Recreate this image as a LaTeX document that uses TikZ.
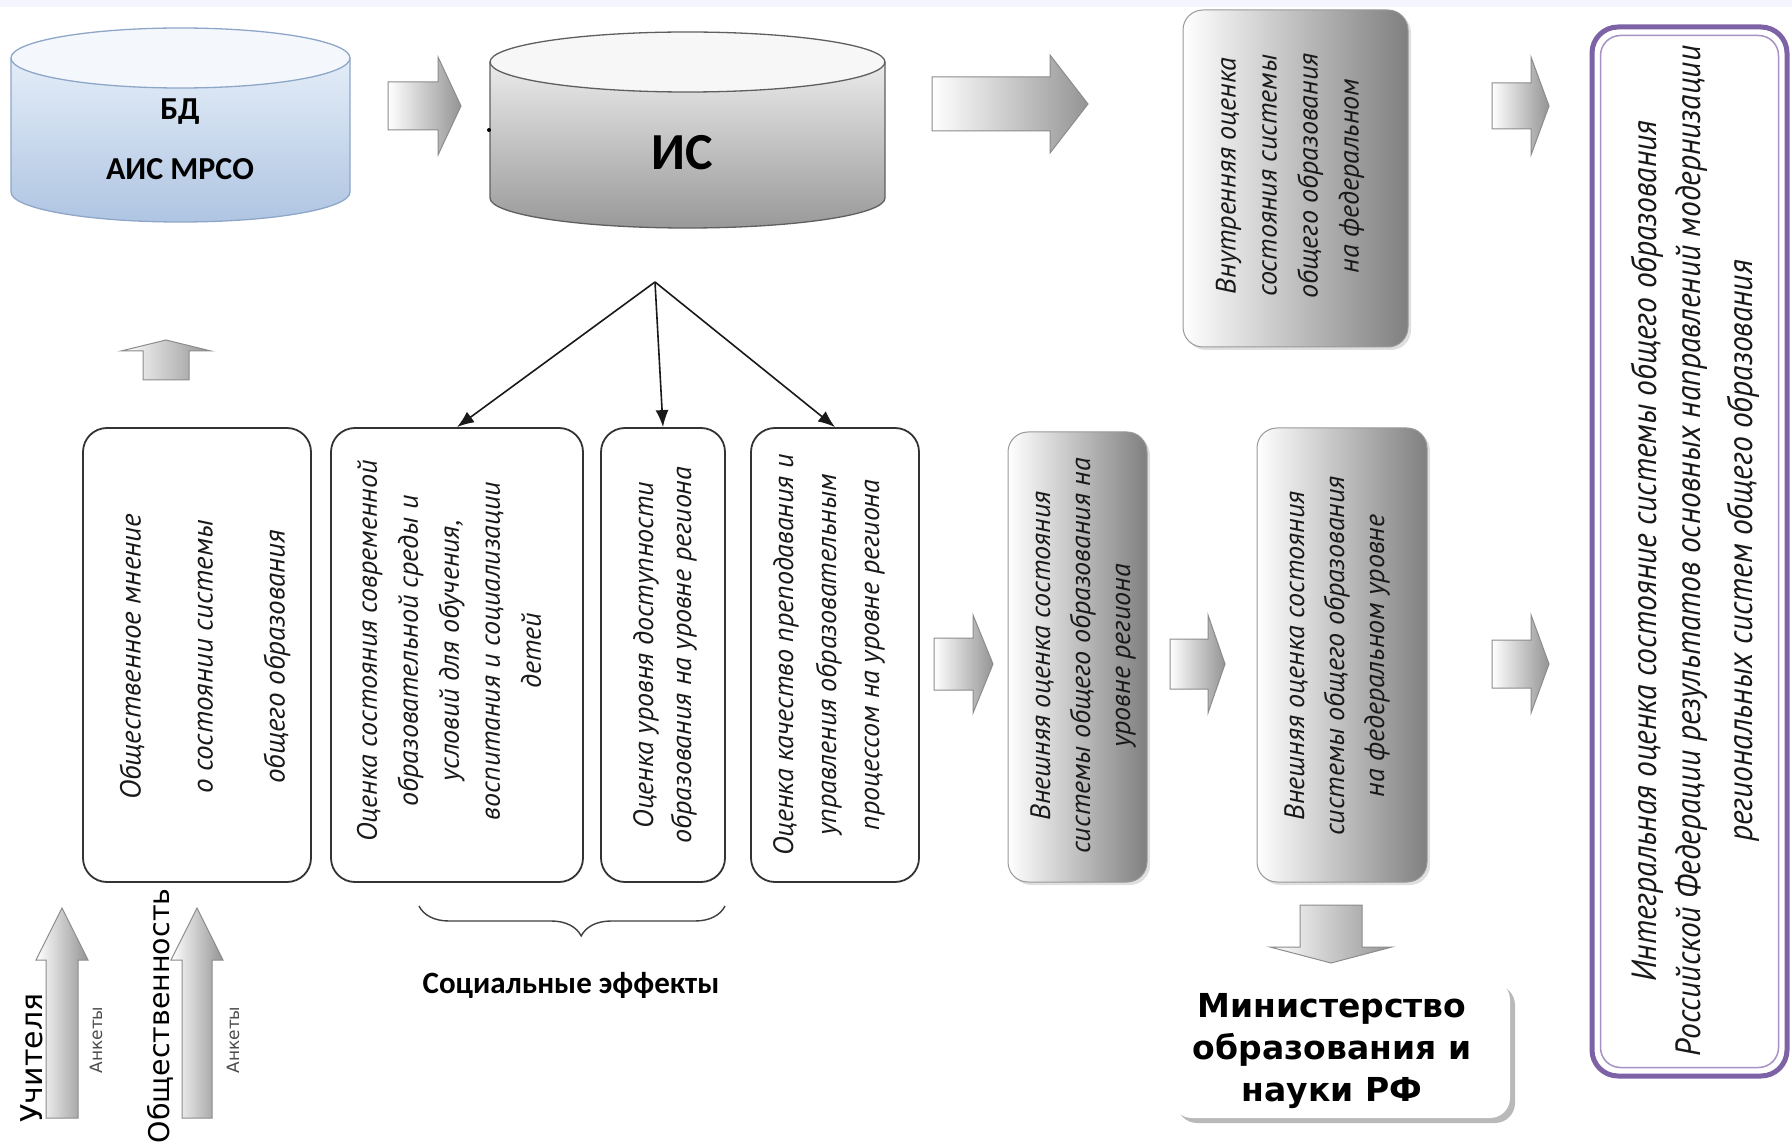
\documentclass[tikz,border=0pt]{standalone}
\usepackage{fontspec}
\setmainfont{Liberation Sans}
\newfontfamily\ptsans{PT Sans}
\newfontfamily\ptnarrow[FakeStretch=0.9]{PT Sans}
\newfontfamily\carl{Carlito}
\newfontfamily\djv{DejaVu Sans}
\usetikzlibrary{arrows.meta,shadows,decorations.pathreplacing}
\definecolor{bdline}{HTML}{8EA6C8}
\definecolor{bdtop}{HTML}{F4F8FD}
\definecolor{bdhi}{HTML}{E4EDF8}
\definecolor{bdlo}{HTML}{AFC5E2}
\definecolor{isline}{HTML}{5F5F5F}
\definecolor{purp}{HTML}{7D62A6}
\definecolor{purpl}{HTML}{A792C6}
\newcommand\boxtxt{\ptsans\itshape\fontsize{28}{40}\selectfont}
% right block arrow: x0, x head base, x tip, y centre, half body, half head
\newcommand\rblock[6]{\path[barrow] (#1,#4-#5) -- (#2,#4-#5) -- (#2,#4-#6) -- (#3,#4) -- (#2,#4+#6) -- (#2,#4+#5) -- (#1,#4+#5) -- cycle;}
% vertical block arrow: x centre, half body, half head, tip y, head base y, tail y
\newcommand\ublock[6]{\path[barrow] (#1-#2,#6) -- (#1-#2,#5) -- (#1-#3,#5) -- (#1,#4) -- (#1+#3,#5) -- (#1+#2,#5) -- (#1+#2,#6) -- cycle;}
\tikzset{
  wbox/.style={draw=black!80, line width=1.8pt, fill=white, rounded corners=24pt, inner sep=0pt},
  gbox/.style={draw=black!40, line width=1pt, rounded corners=20pt, inner sep=0pt,
     left color=white, right color=black!50,
     drop shadow={shadow xshift=3pt, shadow yshift=-3pt, opacity=0.25}},
  vtext/.style={rotate=90, align=center, font=\boxtxt, text=black!90, inner sep=0pt},
  barrow/.style={draw=black!45, line width=1pt, left color=white, right color=black!42},
  conn/.style={draw=black!90, line width=1.6pt, -{Latex[length=17pt,width=13pt]}},
}
\begin{document}
\begin{tikzpicture}[x=1pt,y=-1pt]
\useasboundingbox (0,0) rectangle (1792,1147);
\fill[white] (0,0) rectangle (1792,1147);
\fill[blue!4] (0,0) rectangle (1792,7);

% ---- cylinder BD
\path[top color=bdhi, bottom color=bdlo] (11,58) -- (11,192) arc[start angle=180,end angle=360,x radius=169.5pt,y radius=30pt] -- (350,58) -- cycle;
\draw[bdline, line width=1.3pt] (11,58) -- (11,192) arc[start angle=180,end angle=360,x radius=169.5pt,y radius=30pt] -- (350,58);
\draw[bdline, line width=1.3pt, fill=bdtop] (180.5,58) ellipse [x radius=169.5pt, y radius=30pt];
\node[font=\carl\bfseries\fontsize{32}{34}\selectfont] (bd) at (180,112) {БД};
\node[font=\carl\bfseries\fontsize{32}{34}\selectfont] (ais) at (180,169) {АИС МРСО};

% ---- cylinder IS
\path[top color=black!8, bottom color=black!40] (490,62) -- (490,198) arc[start angle=180,end angle=360,x radius=197.5pt,y radius=30pt] -- (885,62) -- cycle;
\draw[isline, line width=1.3pt] (490,62) -- (490,198) arc[start angle=180,end angle=360,x radius=197.5pt,y radius=30pt] -- (885,62);
\draw[isline, line width=1.3pt, fill=black!3] (687.5,62) ellipse [x radius=197.5pt, y radius=30pt];
\node[font=\carl\bfseries\fontsize{52}{54}\selectfont] (is) at (682,153) {ИС};
\fill (489,130) circle[radius=2pt];
\coordinate (hub) at (655,282);

% ---- block arrows
\rblock{388}{438}{461}{106}{24}{49}
\rblock{932}{1050}{1088}{104}{27}{49}
\rblock{1492}{1531}{1549}{106}{23}{49}
\rblock{934}{973}{993}{664}{26}{49}
\rblock{1170}{1208}{1225}{664}{25}{49}
\rblock{1492}{1531}{1549}{664}{24}{49}
\ublock{166}{23}{45}{340}{351}{380}
\ublock{1331}{31}{61}{963}{947}{905}
\ublock{62}{16}{26}{908}{960}{1118}
\ublock{197}{15}{26}{908}{960}{1118}

% ---- white boxes
\node[wbox, minimum width=228pt, minimum height=454pt] (b1) at (197,655) {};
\node[wbox, minimum width=252pt, minimum height=454pt] (b2) at (457,655) {};
\node[wbox, minimum width=124pt, minimum height=454pt] (b3) at (663,655) {};
\node[wbox, minimum width=168pt, minimum height=454pt] (b4) at (835,655) {};

\node[vtext, font=\ptsans\itshape\fontsize{29}{72}\selectfont] (t1) at (205,657) {Общественное мнение\\о состоянии системы\\общего образования};
\node[vtext, font=\ptsans\itshape\fontsize{28}{41}\selectfont] (t2) at (449,651) {Оценка состояния современной\\образовательной среды и\\условий для обучения,\\воспитания и социализации\\детей};
\node[vtext, font=\ptsans\itshape\fontsize{28}{38}\selectfont] (t3) at (665,655) {Оценка уровня доступности\\образования на уровне региона};
\node[vtext, font=\ptsans\itshape\fontsize{28}{43}\selectfont] (t4) at (829,655) {Оценка качество преподавания и\\управления образовательным\\процессом на уровне региона};

% ---- grey boxes
\node[gbox, minimum width=139pt, minimum height=450pt] (b5) at (1077.5,657) {};
\node[gbox, minimum width=170pt, minimum height=454pt] (b6) at (1342,655) {};
\node[gbox, minimum width=225pt, minimum height=337pt] (b7) at (1295.5,178.5) {};
\node[vtext, font=\ptsans\itshape\fontsize{28}{40}\selectfont] (t5) at (1083,656) {Внешняя оценка состояния\\системы общего образования на\\уровне региона};
\node[vtext, font=\ptsans\itshape\fontsize{28}{40}\selectfont] (t6) at (1337,656) {Внешняя оценка состояния\\системы общего образования\\на федеральном уровне};
\node[vtext, font=\ptsans\itshape\fontsize{28}{41}\selectfont] (t7) at (1290,176) {Внутренняя оценка\\состояния системы\\общего образования\\на федеральном};

% ---- purple box
\node[draw=purp, line width=5pt, rounded corners=26pt, minimum width=195pt, minimum height=1049pt, inner sep=0pt] (pb) at (1689.5,551.5) {};
\node[draw=purpl, line width=1.5pt, rounded corners=20pt, minimum width=178pt, minimum height=1032pt, inner sep=0pt] (pbi) at (1689.5,551.5) {};
\node[vtext, font=\ptnarrow\itshape\fontsize{35}{44}\selectfont] (t8) at (1695,551) {Интегральная оценка состояние системы общего образования\\Российской Федерации результатов основных направлений модернизации\\[8pt]региональных систем общего образования};

% ---- ministry
\node[fill=white, rounded corners=20pt, minimum width=338pt, minimum height=138pt, inner sep=0pt,
      drop shadow={shadow xshift=5pt, shadow yshift=-5pt, opacity=0.55}] (min) at (1341,1049) {};
\node[align=center, font=\djv\bfseries\fontsize{33}{42}\selectfont] (mint) at (1332,1051) {Министерство\\образования и\\науки РФ};

% ---- connectors
\draw[conn] (hub) -- (b2.north);
\draw[conn] (hub) -- (b3.north);
\draw[conn] (hub) -- (b4.north);

% ---- brace and social effects
\coordinate (brL) at (419,906);
\coordinate (brR) at (725,906);
\draw[decorate, decoration={brace, amplitude=30pt, aspect=0.53, mirror}, line width=1.4pt, draw=black!75] (brL) -- (brR);
\node[font=\carl\bfseries\fontsize{31}{33}\selectfont] (soc) at (571,985) {Социальные эффекты};

% ---- left labels
\node[rotate=90, font=\djv\fontsize{30}{32}\selectfont, inner sep=0pt] (uch) at (32,1058) {Учителя};
\node[rotate=90, font=\djv\fontsize{28.5}{30}\selectfont, inner sep=0pt] (obs) at (160,1016) {Общественность};
\node[rotate=90, font=\djv\fontsize{17}{19}\selectfont, text=black!70, inner sep=0pt] (ank1) at (96,1040) {Анкеты};
\node[rotate=90, font=\djv\fontsize{17}{19}\selectfont, text=black!70, inner sep=0pt] (ank2) at (233,1040) {Анкеты};
\end{tikzpicture}
\end{document}
